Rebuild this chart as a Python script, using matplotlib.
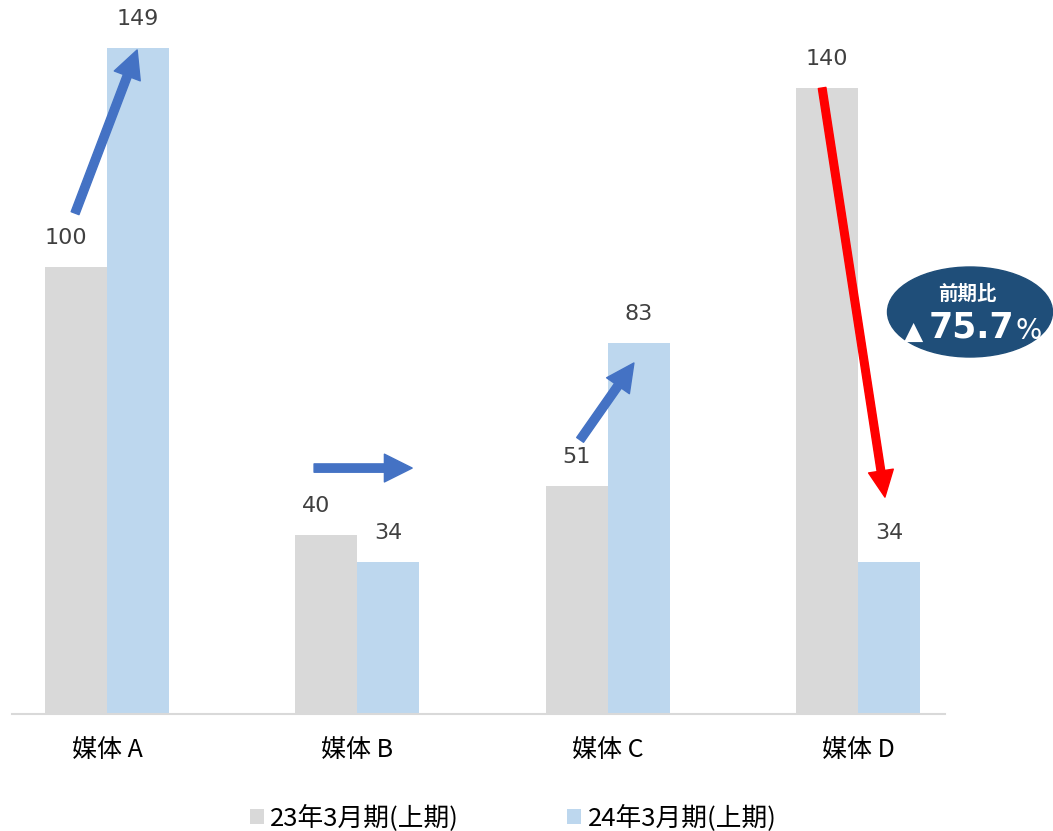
import matplotlib.pyplot as plt
from matplotlib.patches import Ellipse

plt.rcParams['font.family'] = ['Noto Sans CJK JP', 'DejaVu Sans']

# data
categories = ['媒体 A', '媒体 B', '媒体 C', '媒体 D']
series_names = ['23年3月期(上期)', '24年3月期(上期)']
prev_values = [100, 40, 51, 140]
curr_values = [149, 34, 83, 34]
badge_title = '前期比'
badge_value = '75.7'

gray = '#D9D9D9'
blue = '#BDD7EE'
arrow_blue = '#4472C4'
navy = '#1F4E79'

W, H = 1053, 831
fig = plt.figure(figsize=(W / 100, H / 100), dpi=100)
ax = fig.add_axes([12 / W, (H - 714) / H, 933 / W, 711 / H])

x = list(range(len(categories)))
bw = 0.248
b1 = ax.bar([i - bw / 2 for i in x], prev_values, bw, color=gray, label=series_names[0])
b2 = ax.bar([i + bw / 2 for i in x], curr_values, bw, color=blue, label=series_names[1])

# two of the gray labels sit a bit left in the original (clear of the arrows)
nudge = {(0, 0): -7, (1, 0): -7}
for s, (bars, vals) in enumerate(((b1, prev_values), (b2, curr_values))):
    for i, (b, v) in enumerate(zip(bars, vals)):
        ax.annotate(str(v), (b.get_x() + b.get_width() / 2, v),
                    xytext=(nudge.get((i, s), 0), 21),
                    textcoords='offset points', ha='center', va='center',
                    fontsize=16, color='#404040', family='DejaVu Sans')

ax.set_xlim(-0.38, 3.348)
ax.set_ylim(0, 159)
ax.set_xticks(x)
ax.set_xticklabels(categories, fontsize=18, color='#000000')
ax.tick_params(axis='x', length=0, pad=16.5)
ax.set_yticks([])
for s in ('top', 'right', 'left'):
    ax.spines[s].set_visible(False)
ax.spines['bottom'].set_color(gray)
ax.spines['bottom'].set_linewidth(1.5)

# change arrows
blue_arrow = dict(width=6, headwidth=20, headlength=20, color=arrow_blue, shrink=0)
ax.annotate('', xy=(0.12, 148.5), xytext=(-0.128, 112), arrowprops=blue_arrow, annotation_clip=False)
ax.annotate('', xy=(1.219, 55), xytext=(0.827, 55), arrowprops=blue_arrow)
ax.annotate('', xy=(2.105, 78.5), xytext=(1.89, 61.3), arrowprops=blue_arrow)
ax.annotate('', xy=(3.108, 48.5), xytext=(2.857, 140),
            arrowprops=dict(width=5.5, headwidth=18, headlength=19, color='#FF0000', shrink=0))

# badge
fig.patches.append(Ellipse((970 / W, 1 - 312 / H), 165 / W, 90 / H,
                           transform=fig.transFigure, color=navy, zorder=5))
fig.text(967 / W, 1 - 294 / H, badge_title, ha='center', va='center', color='white',
         fontsize=14, fontweight='bold', zorder=6)
fig.text(914 / W, 1 - 332 / H, '▲', ha='center', va='center', color='white',
         fontsize=18, family='DejaVu Sans', zorder=6)
fig.text(971 / W, 1 - 327 / H, badge_value, ha='center', va='center', color='white',
         fontsize=25, fontweight='bold', family='DejaVu Sans', zorder=6)
fig.text(1029 / W, 1 - 331 / H, '%', ha='center', va='center', color='white',
         fontsize=20, family='DejaVu Sans', zorder=6)

fig.legend(loc='center', bbox_to_anchor=(513 / W, 1 - 818 / H), ncol=2, frameon=False,
           fontsize=18.5, handlelength=0.55, handleheight=0.55, handletextpad=0.25,
           columnspacing=4.2)

fig.savefig('out.png', dpi=100)
